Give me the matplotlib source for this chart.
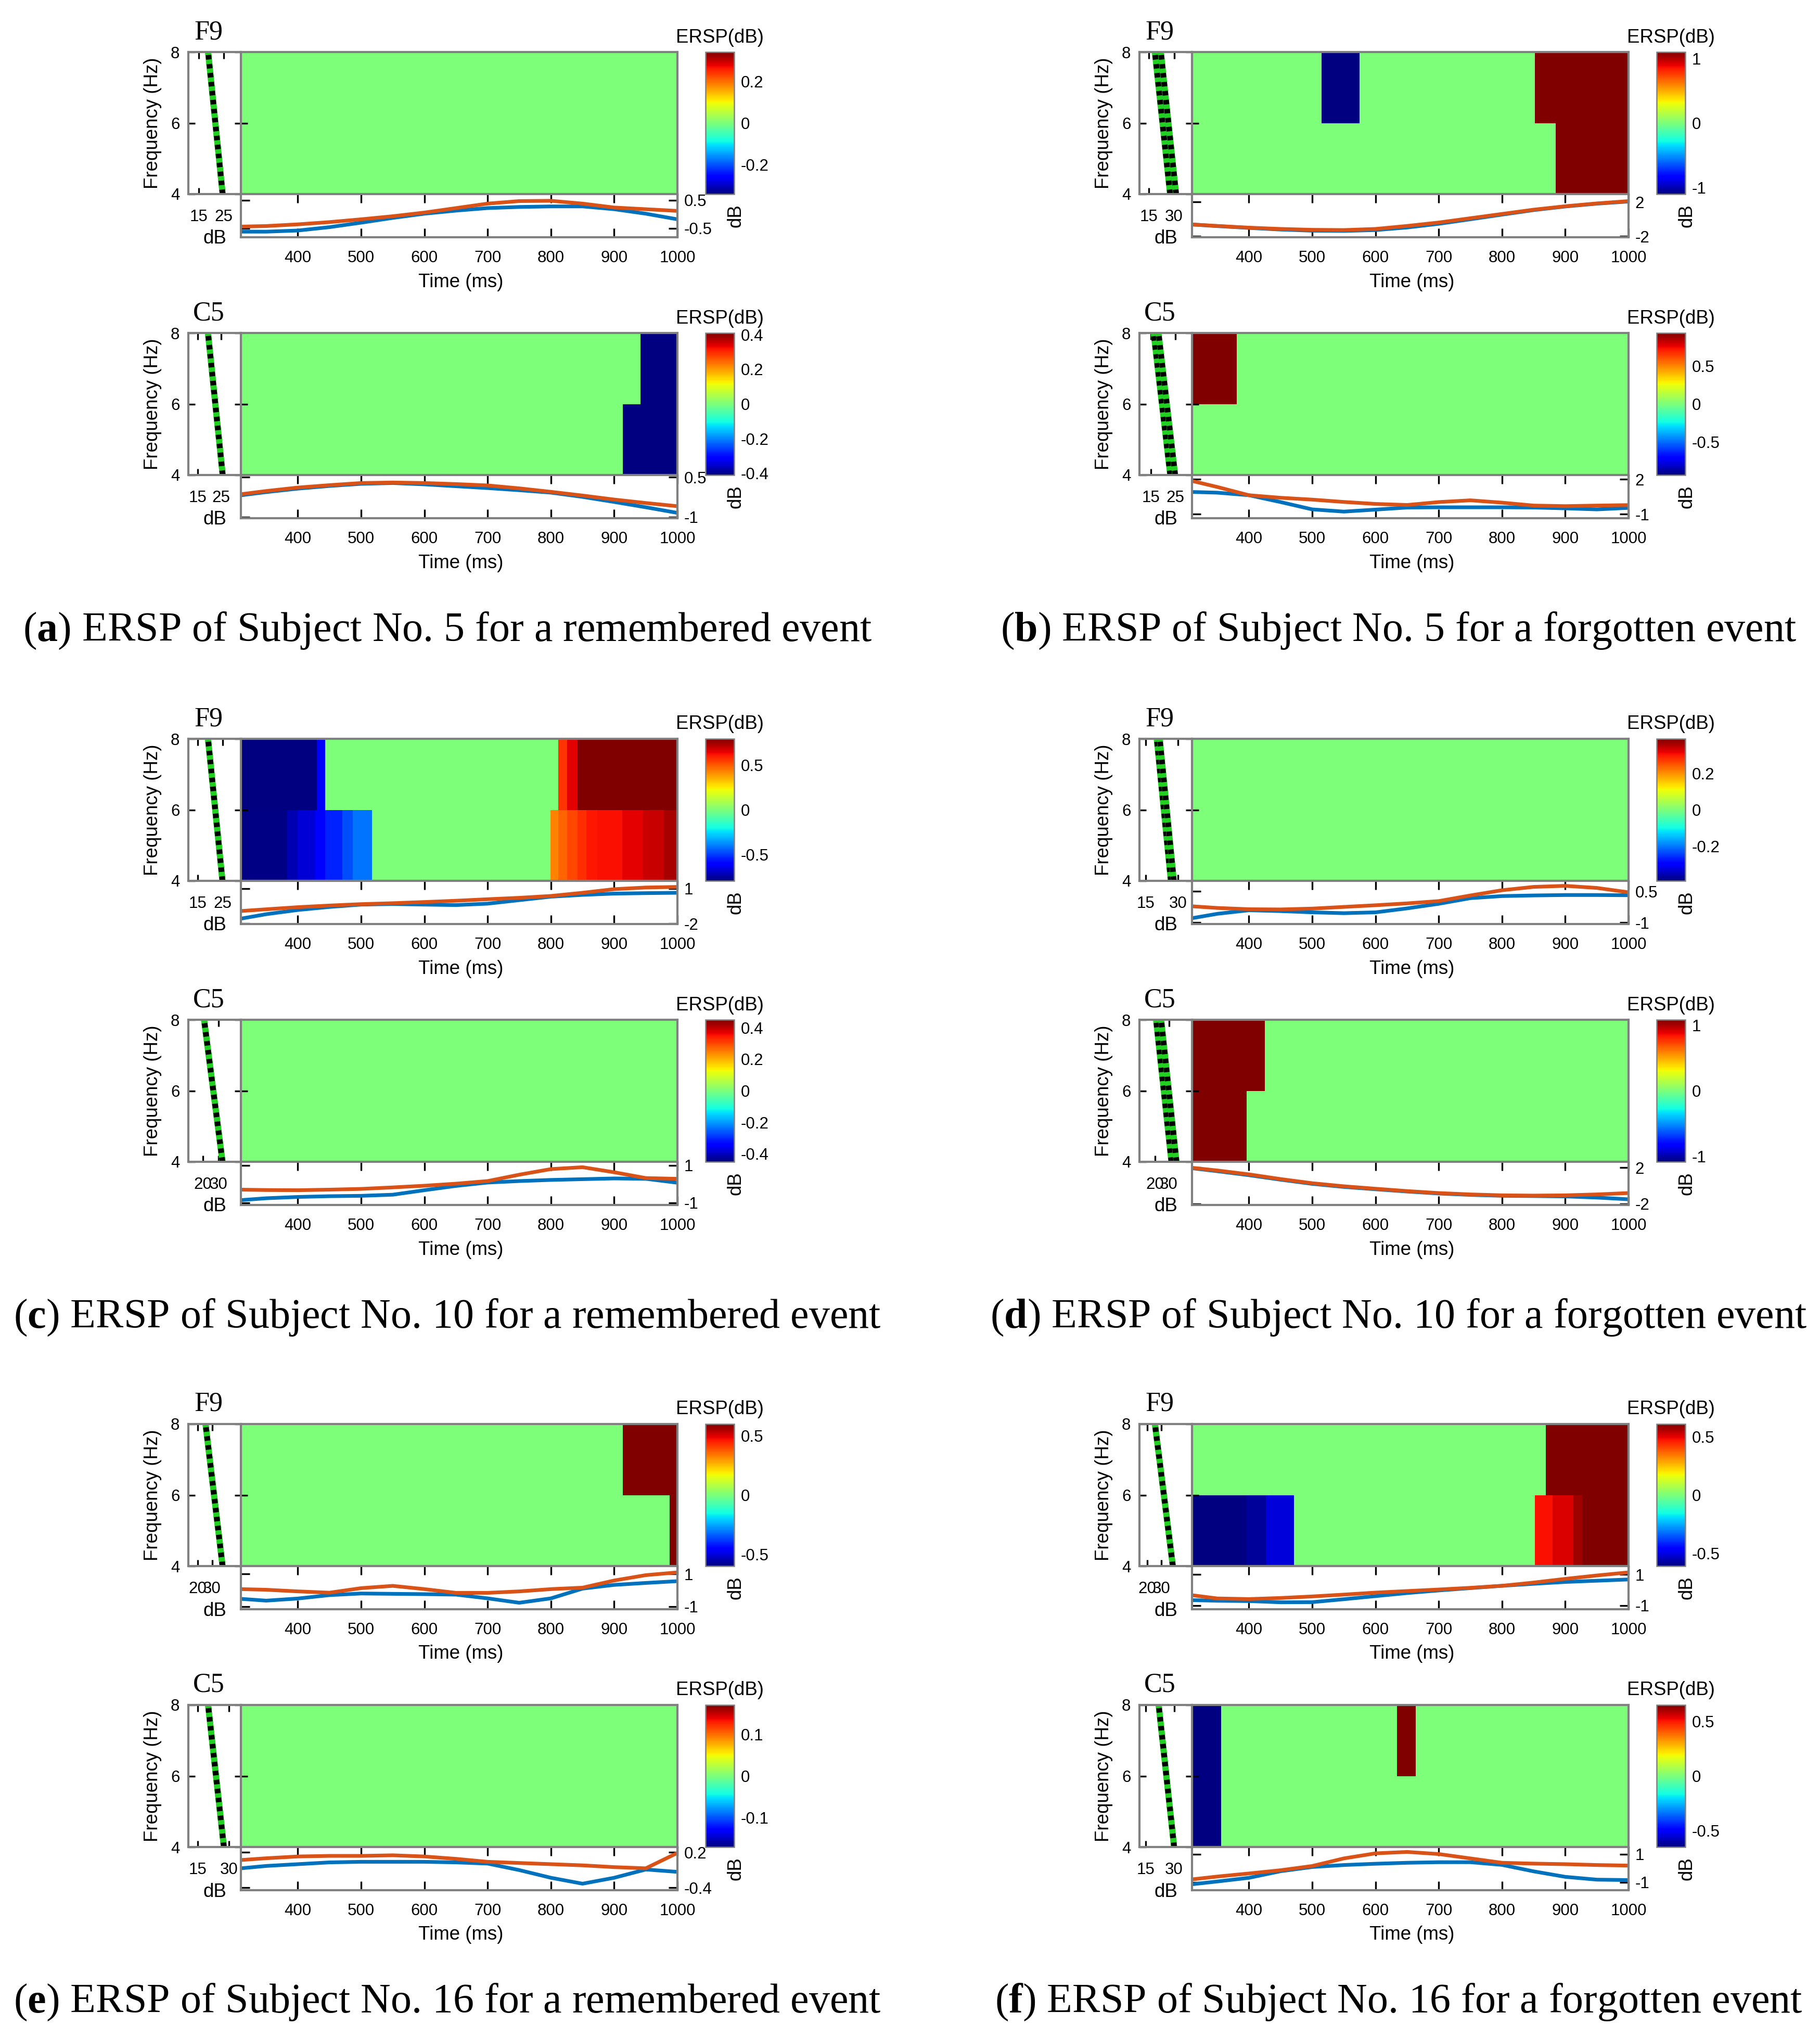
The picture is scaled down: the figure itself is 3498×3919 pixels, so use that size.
import numpy as np
import matplotlib
matplotlib.use("Agg")
import matplotlib.pyplot as plt
import matplotlib.colors as mcolors
from matplotlib.cm import ScalarMappable

plt.rcParams['font.family'] = ['Liberation Sans', 'DejaVu Sans']
plt.rcParams['axes.unicode_minus'] = False
plt.rcParams['mathtext.fontset'] = 'custom'
plt.rcParams['mathtext.rm'] = 'Liberation Serif'
plt.rcParams['mathtext.bf'] = 'Liberation Serif:bold'

# ---------------- data ----------------
# plot order: a_F9, a_C5, b_F9, b_C5, c_F9, c_C5, d_F9, d_C5, e_F9, e_C5, f_F9, f_C5
PANELS = ["a", "b", "c", "d", "e", "f"]
CHANNELS = ["F9", "C5"]
CAPTIONS = [
    "ERSP of Subject No. 5 for a remembered event",
    "ERSP of Subject No. 5 for a forgotten event",
    "ERSP of Subject No. 10 for a remembered event",
    "ERSP of Subject No. 10 for a forgotten event",
    "ERSP of Subject No. 16 for a remembered event",
    "ERSP of Subject No. 16 for a forgotten event",
]

T_START, T_END = 310, 1000
TIME_TICKS = [400, 500, 600, 700, 800, 900, 1000]

# ERSP blocks (start ms, end ms, dB) for the 6-8 Hz row and the 4-6 Hz row
ERSP_UPPER = [
    [(310, 1000, 0.0)],
    [(310, 942, 0.0), (942, 1000, -0.45)],
    [(310, 515, 0.0), (515, 575, -1.2), (575, 852, 0.0), (852, 1000, 1.2)],
    [(310, 381, 1.0), (381, 1000, 0.0)],
    [(310, 430, -0.8), (430, 443, -0.6), (443, 812, 0.0), (812, 826, 0.56),
     (826, 842, 0.65), (842, 1000, 0.8)],
    [(310, 1000, 0.0)],
    [(310, 1000, 0.0)],
    [(310, 425, 1.2), (425, 1000, 0.0)],
    [(310, 914, 0.0), (914, 1000, 0.7)],
    [(310, 1000, 0.0)],
    [(310, 869, 0.0), (869, 1000, 0.7)],
    [(310, 356, -0.7), (356, 634, 0.0), (634, 664, 0.7), (664, 1000, 0.0)],
]
ERSP_LOWER = [
    [(310, 1000, 0.0)],
    [(310, 914, 0.0), (914, 1000, -0.45)],
    [(310, 885, 0.0), (885, 1000, 1.2)],
    [(310, 1000, 0.0)],
    [(310, 383, -0.78), (383, 400, -0.72), (400, 428, -0.67), (428, 443, -0.6),
     (443, 470, -0.54), (470, 487, -0.47), (487, 517, -0.41), (517, 799, 0.0),
     (799, 812, 0.43), (812, 826, 0.48), (826, 842, 0.53), (842, 856, 0.57),
     (856, 873, 0.61), (873, 913, 0.62), (913, 946, 0.65), (946, 979, 0.69),
     (979, 1000, 0.73)],
    [(310, 1000, 0.0)],
    [(310, 1000, 0.0)],
    [(310, 396, 1.2), (396, 1000, 0.0)],
    [(310, 988, 0.0), (988, 1000, 0.7)],
    [(310, 1000, 0.0)],
    [(310, 396, -0.7), (396, 427, -0.58), (427, 471, -0.51), (471, 852, 0.0),
     (852, 880, 0.48), (880, 913, 0.51), (913, 927, 0.575), (927, 1000, 0.7)],
    [(310, 356, -0.7), (356, 1000, 0.0)],
]
ERSP_CLIM = [0.34, 0.41, 1.1, 0.94, 0.79, 0.45, 0.39, 1.08, 0.6, 0.17, 0.61, 0.65]
CBAR_TICKS = [
    [-0.2, 0, 0.2], [-0.4, -0.2, 0, 0.2, 0.4], [-1, 0, 1], [-0.5, 0, 0.5],
    [-0.5, 0, 0.5], [-0.4, -0.2, 0, 0.2, 0.4], [-0.2, 0, 0.2], [-1, 0, 1],
    [-0.5, 0, 0.5], [-0.1, 0, 0.1], [-0.5, 0, 0.5], [-0.5, 0, 0.5],
]

# mean power envelope curves (dB) under each ERSP image
T_CURVE = [310, 350, 400, 450, 500, 550, 600, 650, 700, 750, 800, 850, 900, 950, 1000]
ORANGE_DB = [
    [-0.44, -0.42, -0.36, -0.28, -0.18, -0.07, 0.06, 0.22, 0.38, 0.47, 0.48, 0.38, 0.24, 0.18, 0.12],
    [-0.14, -0.02, 0.11, 0.20, 0.28, 0.30, 0.28, 0.24, 0.19, 0.08, -0.05, -0.19, -0.34, -0.47, -0.59],
    [-0.63, -0.80, -1.00, -1.15, -1.25, -1.28, -1.15, -0.80, -0.40, 0.10, 0.60, 1.10, 1.50, 1.83, 2.10],
    [1.87, 1.35, 0.64, 0.42, 0.26, 0.06, -0.11, -0.20, 0.05, 0.20, 0.00, -0.25, -0.30, -0.25, -0.21],
    [-0.93, -0.78, -0.60, -0.46, -0.34, -0.26, -0.16, -0.05, 0.08, 0.20, 0.36, 0.63, 0.94, 1.08, 1.13],
    [-0.30, -0.32, -0.33, -0.30, -0.26, -0.18, -0.09, 0.02, 0.16, 0.50, 0.80, 0.90, 0.63, 0.32, 0.28],
    [-0.22, -0.30, -0.36, -0.37, -0.33, -0.25, -0.17, -0.08, 0.03, 0.30, 0.55, 0.71, 0.76, 0.66, 0.45],
    [2.00, 1.70, 1.27, 0.75, 0.29, -0.05, -0.32, -0.58, -0.80, -0.95, -1.05, -1.08, -1.05, -0.95, -0.80],
    [0.07, 0.03, -0.07, -0.15, 0.13, 0.27, 0.07, -0.16, -0.16, -0.07, 0.07, 0.16, 0.60, 0.93, 1.10],
    [0.07, 0.10, 0.13, 0.14, 0.14, 0.15, 0.13, 0.09, 0.04, 0.02, 0.00, -0.02, -0.05, -0.07, 0.19],
    [-0.34, -0.55, -0.59, -0.52, -0.42, -0.30, -0.17, -0.07, 0.03, 0.14, 0.27, 0.48, 0.72, 0.94, 1.14],
    [-0.80, -0.60, -0.38, -0.15, 0.15, 0.69, 1.05, 1.15, 1.00, 0.69, 0.38, 0.32, 0.28, 0.22, 0.18],
]
BLUE_DB = [
    [-0.62, -0.62, -0.58, -0.46, -0.30, -0.13, 0.02, 0.13, 0.22, 0.26, 0.28, 0.28, 0.18, 0.02, -0.18],
    [-0.18, -0.06, 0.07, 0.17, 0.25, 0.28, 0.23, 0.16, 0.09, 0.01, -0.08, -0.24, -0.43, -0.63, -0.84],
    [-0.63, -0.82, -1.03, -1.22, -1.35, -1.38, -1.28, -0.98, -0.55, -0.02, 0.52, 1.05, 1.47, 1.80, 2.05],
    [0.92, 0.86, 0.64, 0.05, -0.58, -0.77, -0.60, -0.42, -0.40, -0.40, -0.40, -0.42, -0.49, -0.58, -0.45],
    [-1.58, -1.20, -0.84, -0.58, -0.38, -0.33, -0.38, -0.42, -0.30, 0.00, 0.30, 0.45, 0.56, 0.60, 0.63],
    [-0.86, -0.76, -0.69, -0.65, -0.63, -0.57, -0.33, -0.10, 0.08, 0.16, 0.22, 0.26, 0.30, 0.28, 0.07],
    [-0.79, -0.58, -0.41, -0.45, -0.51, -0.55, -0.51, -0.32, -0.10, 0.17, 0.27, 0.30, 0.32, 0.32, 0.31],
    [1.95, 1.62, 1.18, 0.68, 0.22, -0.12, -0.38, -0.63, -0.85, -1.00, -1.10, -1.13, -1.17, -1.30, -1.49],
    [-0.53, -0.64, -0.51, -0.30, -0.20, -0.22, -0.24, -0.27, -0.50, -0.77, -0.50, 0.10, 0.33, 0.45, 0.56],
    [-0.07, -0.03, 0.00, 0.03, 0.04, 0.04, 0.04, 0.03, 0.01, -0.10, -0.23, -0.33, -0.23, -0.09, -0.13],
    [-0.66, -0.70, -0.72, -0.80, -0.79, -0.60, -0.40, -0.20, -0.03, 0.12, 0.27, 0.40, 0.52, 0.60, 0.68],
    [-1.15, -0.95, -0.69, -0.22, 0.08, 0.22, 0.31, 0.38, 0.42, 0.42, 0.23, -0.23, -0.62, -0.82, -0.85],
]
CURVE_TICKS = [
    [-0.5, 0.5], [-1, 0.5], [-2, 2], [-1, 2], [-2, 1], [-1, 1],
    [-1, 0.5], [-2, 2], [-1, 1], [-0.4, 0.2], [-1, 1], [-1, 1],
]
CURVE_YLIM = [
    (-0.82, 0.72), (-1.04, 0.58), (-2.12, 2.92), (-1.34, 2.38), (-2.04, 1.65), (-1.12, 1.19),
    (-1.07, 1.0), (-2.12, 2.66), (-1.17, 1.49), (-0.44, 0.29), (-1.25, 1.55), (-1.57, 1.5),
]

# baseline spectrum panel: (dB at 4 Hz, dB at 8 Hz) for the mean and its two bounds
SPEC_FREQ = [4, 8]
SPEC_MEAN = [
    (24.5, 18.7), (25.6, 19.4), (29.4, 20.3), (23.9, 17.1), (25.0, 19.2), (32.5, 20.8),
    (27.4, 20.8), (33.6, 22.7), (37.3, 25.5), (27.5, 20.0), (38.2, 25.5), (30.0, 21.8),
]
SPEC_LOW = [
    (24.5, 18.7), (25.6, 19.4), (27.6, 18.5), (22.9, 16.1), (25.0, 19.2), (32.5, 20.8),
    (26.7, 20.1), (31.8, 20.9), (37.3, 25.5), (27.5, 20.0), (38.2, 25.5), (30.0, 21.8),
]
SPEC_HIGH = [
    (24.5, 18.7), (25.6, 19.4), (31.2, 22.1), (24.9, 18.1), (25.0, 19.2), (32.5, 20.8),
    (28.1, 21.5), (35.4, 24.5), (37.3, 25.5), (27.5, 20.0), (38.2, 25.5), (30.0, 21.8),
]
SPEC_TICKS = [
    [15, 25], [15, 25], [15, 30], [15, 25], [15, 25], [20, 30],
    [15, 30], [20, 30], [20, 30], [15, 30], [20, 30], [15, 30],
]
SPEC_XLIM = [
    (10.8, 31.8), (11.1, 33.3), (9.3, 40.7), (10.3, 31.8), (11.3, 32.4), (10.8, 44.2),
    (12.0, 36.6), (9.1, 46.4), (13.6, 50.0), (10.6, 35.6), (14.5, 51.8), (11.6, 39.5),
]

# ---------------- layout (pixels of the 3498x3919 canvas) ----------------
W, H, DPI = 3498, 3919, 300
COL_X = [463, 2291]          # left edge of the ERSP images
ROW_Y = [100, 1420, 2737]    # top edge of the F9 images
CH_DY = [0, 540]             # C5 block offset
CAPTION_X = [860, 2688]
CAPTION_Y = [1212, 2532, 3848]
IMG_W, IMG_H = 839, 273
CURVE_H = 83
SPEC_W = 101
CB_DX, CB_W = 893, 55
FRAME = "#808080"
TICK_FS = 7.5
LABEL_FS = 8.8


def box(x, y, w, h):
    return [x / W, 1 - (y + h) / H, w / W, h / H]


def fx(x):
    return x / W


def fy(y):
    return 1 - y / H


def style_frame(ax):
    for s in ax.spines.values():
        s.set_color(FRAME)
        s.set_linewidth(1.0)


def draw_block(fig, k, x0, y0, channel):
    cmap = plt.get_cmap("jet")
    norm = mcolors.Normalize(vmin=-ERSP_CLIM[k], vmax=ERSP_CLIM[k])

    # ERSP image
    ax = fig.add_axes(box(x0, y0, IMG_W, IMG_H))
    for segs, (f0, f1) in ((ERSP_LOWER[k], (4, 6)), (ERSP_UPPER[k], (6, 8))):
        edges = [s[0] for s in segs] + [segs[-1][1]]
        vals = np.array([[s[2] for s in segs]])
        ax.pcolormesh(edges, [f0, f1], vals, cmap=cmap, norm=norm, shading="flat")
    ax.set_xlim(T_START, T_END)
    ax.set_ylim(4, 8)
    ax.set_xticks([])
    ax.set_yticks([6])
    ax.tick_params(axis="y", direction="in", length=3, labelleft=False, color="k")
    style_frame(ax)

    # baseline spectrum (mean in blue, bounds green with black dots)
    sp = fig.add_axes(box(x0 - SPEC_W, y0, SPEC_W, IMG_H))
    sp.plot(SPEC_MEAN[k], SPEC_FREQ, color="#1f78c8", lw=1.0)
    for bound in (SPEC_LOW[k], SPEC_HIGH[k]):
        sp.plot(bound, SPEC_FREQ, color="#22d022", lw=2.8, solid_capstyle="butt")
        sp.plot(bound, SPEC_FREQ, color="black", lw=2.6, linestyle=(0, (0.8, 0.8)))
    sp.set_xlim(SPEC_XLIM[k])
    sp.set_ylim(4, 8)
    sp.set_xticks(SPEC_TICKS[k])
    sp.set_yticks([4, 6, 8])
    sp.tick_params(direction="in", length=3, labelsize=TICK_FS, pad=4, top=True, right=True)
    sp.tick_params(axis="x", pad=7)
    sp.set_ylabel("Frequency (Hz)", fontsize=LABEL_FS, labelpad=4)
    style_frame(sp)
    fig.text(fx(x0 - 50), fy(y0 + 359), "dB", fontsize=LABEL_FS, ha="center", va="center")

    # channel name
    fig.text(fx(x0 - 62), fy(y0 - 38), channel, family="Liberation Serif",
             fontsize=12.5, ha="center", va="center")

    # envelope curves
    ln = fig.add_axes(box(x0, y0 + IMG_H, IMG_W, CURVE_H))
    ln.plot(T_CURVE, BLUE_DB[k], color="#0072bd", lw=1.7)
    ln.plot(T_CURVE, ORANGE_DB[k], color="#d95319", lw=1.7)
    ln.set_xlim(T_START, T_END)
    ln.set_ylim(CURVE_YLIM[k])
    ln.set_xticks(TIME_TICKS)
    ln.set_yticks(CURVE_TICKS[k])
    ln.set_yticklabels([f"{v:g}" for v in CURVE_TICKS[k]])
    ln.tick_params(direction="in", top=True, right=True, length=4, color="k",
                   labelsize=TICK_FS, labelleft=False, labelright=True, pad=3)
    ln.tick_params(axis="x", pad=6)
    style_frame(ln)
    fig.text(fx(x0 + IMG_W / 2 + 3), fy(y0 + 442), "Time (ms)", fontsize=LABEL_FS,
             ha="center", va="center")
    fig.text(fx(x0 + 951), fy(y0 + IMG_H + CURVE_H / 2), "dB", fontsize=LABEL_FS,
             ha="center", va="center", rotation=90)

    # colour bar
    cax = fig.add_axes(box(x0 + CB_DX, y0, CB_W, IMG_H))
    cb = fig.colorbar(ScalarMappable(norm=norm, cmap=cmap), cax=cax, ticks=CBAR_TICKS[k])
    cb.set_ticklabels([f"{v:g}" for v in CBAR_TICKS[k]])
    cb.ax.tick_params(labelsize=TICK_FS, length=0, pad=3)
    cb.outline.set_edgecolor(FRAME)
    cb.outline.set_linewidth(0.6)
    fig.text(fx(x0 + 920), fy(y0 - 28), "ERSP(dB)", fontsize=LABEL_FS,
             ha="center", va="center")


fig = plt.figure(figsize=(W / DPI, H / DPI), dpi=DPI)

for p, letter in enumerate(PANELS):
    col, row = p % 2, p // 2
    for c, channel in enumerate(CHANNELS):
        k = 2 * p + c
        draw_block(fig, k, COL_X[col], ROW_Y[row] + CH_DY[c], channel)
    fig.text(fx(CAPTION_X[col]), fy(CAPTION_Y[row]),
             "($\\mathbf{" + letter + "}$) " + CAPTIONS[p],
             family="Liberation Serif", fontsize=19.2, ha="center", va="center")

fig.savefig("out.png", dpi=DPI)
